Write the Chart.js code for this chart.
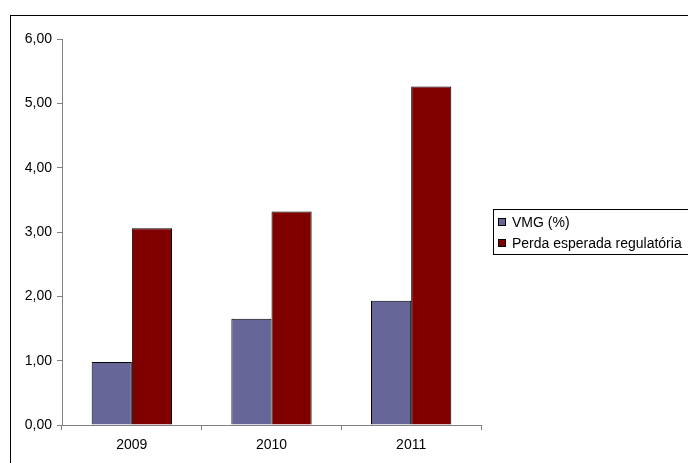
<!DOCTYPE html>
<html>
<head>
<meta charset="utf-8">
<script src="https://cdn.jsdelivr.net/npm/chart.js@4/dist/chart.umd.min.js"></script>
<style>
  html, body { margin: 0; padding: 0; background: #fff; }
  canvas { display: block; }
</style>
</head>
<body>
<canvas id="myChart" width="688" height="463"></canvas>
<script>
// chart data
const years = ['2009', '2010', '2011'];
const vmg = [0.98, 1.65, 1.93];
const perdaEsperada = [3.06, 3.32, 5.26];
const seriesNames = ['VMG (%)', 'Perda esperada regulatória'];

const font = { family: 'Liberation Sans, Arial, sans-serif', size: 14 };

// frame around the whole chart (cut off at right and bottom like the source)
const framePlugin = {
    id: 'frame',
    beforeDraw(chart) {
        const c = chart.ctx;
        c.save();
        c.fillStyle = '#fff';
        c.fillRect(0, 0, chart.width, chart.height);
        c.strokeStyle = '#000';
        c.lineWidth = 1;
        c.strokeRect(10.5, 15.5, 720, 480);
        c.restore();
    }
};

// legend box on the right
const legendPlugin = {
    id: 'boxLegend',
    afterDraw(chart) {
        const c = chart.ctx;
        c.save();
        c.strokeStyle = '#000';
        c.lineWidth = 1;
        c.strokeRect(493.5, 209.5, 220, 45);
        c.font = font.size + 'px ' + font.family;
        c.textBaseline = 'middle';
        chart.data.datasets.forEach((ds, i) => {
            const y = 222 + i * 21;
            c.fillStyle = ds.backgroundColor;
            c.fillRect(498, y - 3, 7, 7);
            c.strokeStyle = '#000';
            c.strokeRect(498.5, y - 3.5, 7, 7);
            c.fillStyle = '#000';
            c.fillText(ds.label, 512, y + 1);
        });
        c.restore();
    }
};

window.onload = function() {
    const ctx = document.getElementById('myChart').getContext('2d');
    new Chart(ctx, {
        type: 'bar',
        data: {
            labels: years,
            datasets: [{
                label: seriesNames[0],
                data: vmg,
                backgroundColor: '#666699',
                borderColor: '#000',
                borderWidth: 1,
                categoryPercentage: 0.575,
                barPercentage: 1
            }, {
                label: seriesNames[1],
                data: perdaEsperada,
                backgroundColor: '#800000',
                borderColor: '#000',
                borderWidth: 1,
                categoryPercentage: 0.575,
                barPercentage: 1
            }]
        },
        options: {
            responsive: false,
            animation: false,
            layout: { padding: { left: 0, right: 207, top: 39, bottom: 0 } },
            plugins: { legend: { display: false }, tooltip: { enabled: false } },
            scales: {
                x: {
                    afterFit(scale) { scale.height = 38; },
                    grid: { drawOnChartArea: false, color: '#808080', tickLength: 5, offset: true },
                    border: { color: '#808080' },
                    ticks: { color: '#000', font: font, padding: 7 }
                },
                y: {
                    min: 0,
                    max: 6,
                    afterFit(scale) { scale.width = 62; },
                    grid: { drawOnChartArea: false, color: '#808080', tickLength: 5 },
                    border: { color: '#808080' },
                    ticks: {
                        stepSize: 1,
                        color: '#000',
                        font: font,
                        padding: 5,
                        callback: v => v.toFixed(2).replace('.', ',')
                    }
                }
            }
        },
        plugins: [framePlugin, legendPlugin]
    });
};
</script>
</body>
</html>
